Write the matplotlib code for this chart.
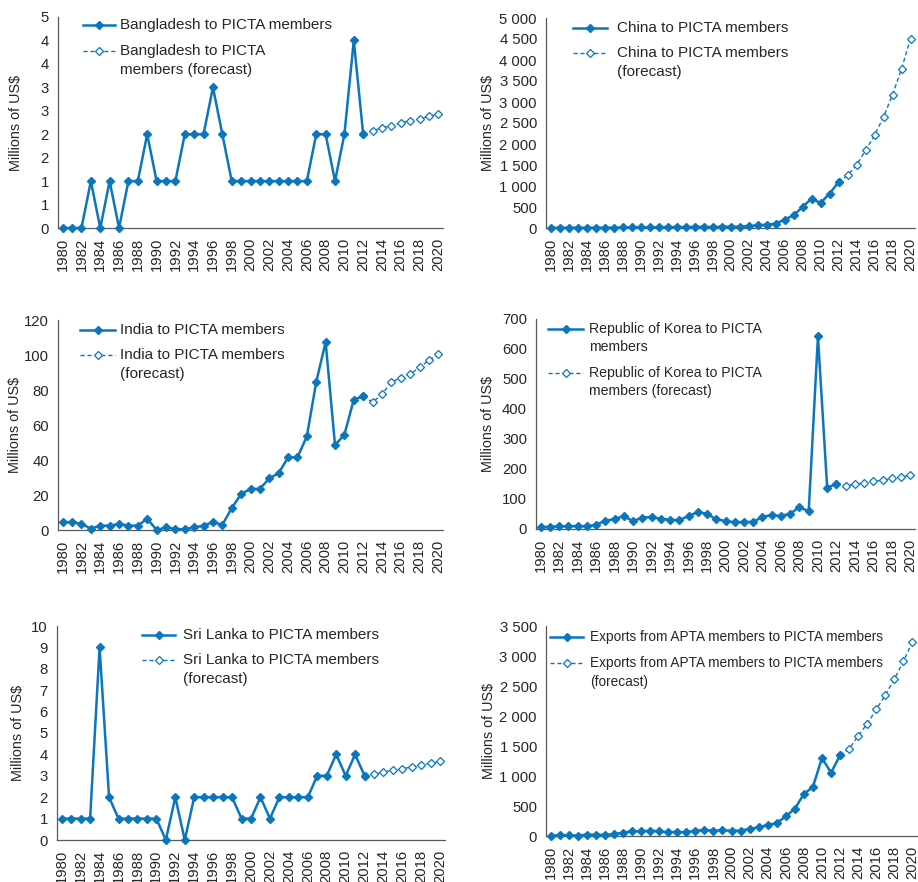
import numpy as np
import matplotlib
matplotlib.use("Agg")
import matplotlib.pyplot as plt
from matplotlib.lines import Line2D
from matplotlib.transforms import blended_transform_factory

plt.rcParams["font.family"] = ["Liberation Sans", "DejaVu Sans"]

years = list(range(1980, 2013))
forecast_years = list(range(2012, 2021))

bangladesh = [0, 0, 0, 1, 0, 1, 0, 1, 1, 2, 1, 1, 1, 2, 2, 2, 3, 2, 1, 1, 1, 1, 1,
              1, 1, 1, 1, 2, 2, 1, 2, 4, 2]
bangladesh_fc = [2, 2.07, 2.14, 2.18, 2.24, 2.29, 2.33, 2.38, 2.43]

china = [5, 5, 6, 6, 7, 7, 8, 9, 12, 14, 14, 14, 22, 18, 24, 20, 25, 28, 22, 30,
         30, 32, 42, 63, 80, 103, 200, 302, 500, 700, 595, 818, 1090]
china_fc = [1090, 1255, 1490, 1850, 2205, 2640, 3175, 3785, 4510]

india = [4.5, 4.5, 3.5, 0.8, 2.5, 2.5, 3.5, 2.5, 2.5, 6.5, 0, 1.5, 0.5, 0.5, 1.5,
         2.5, 4.5, 3, 12.5, 20.5, 23.5, 23.5, 29.5, 32.5, 41.5, 41.5, 53.5, 84.5,
         107.5, 48.5, 54.5, 74.5, 76.5]
india_fc = [76.5, 73, 77.5, 84.5, 87, 89, 93, 97, 100.5]

korea = [7, 7, 9, 9, 10, 9, 14, 28, 33, 43, 26, 38, 40, 34, 31, 29, 44, 56, 51, 32,
         27, 22, 24, 23, 41, 46, 43, 51, 73, 59, 642, 137, 151]
korea_fc = [151, 144, 149, 154, 159, 163, 169, 174, 179]

srilanka = [1, 1, 1, 1, 9, 2, 1, 1, 1, 1, 1, 0, 2, 0, 2, 2, 2, 2, 2, 1, 1, 2, 1, 2,
            2, 2, 2, 3, 3, 4, 3, 4, 3]
srilanka_fc = [3, 3.08, 3.17, 3.26, 3.33, 3.42, 3.5, 3.59, 3.67]

apta = [5, 12, 12, 8, 22, 22, 18, 32, 55, 78, 78, 90, 78, 62, 68, 62, 90, 100, 90,
        95, 88, 90, 118, 145, 185, 215, 328, 455, 700, 820, 1300, 1055, 1345]
apta_fc = [1345, 1450, 1670, 1870, 2110, 2350, 2615, 2910, 3240]

labels = [
    ("Bangladesh to PICTA members", "Bangladesh to PICTA\nmembers (forecast)"),
    ("China to PICTA members", "China to PICTA members\n(forecast)"),
    ("India to PICTA members", "India to PICTA members\n(forecast)"),
    ("Republic of Korea to PICTA\nmembers", "Republic of Korea to PICTA\nmembers (forecast)"),
    ("Sri Lanka to PICTA members", "Sri Lanka to PICTA members\n(forecast)"),
    ("Exports from APTA members to PICTA members",
     "Exports from APTA members to PICTA members\n(forecast)"),
]

y_ticks = [
    np.arange(0, 4.51, 0.5),
    np.arange(0, 5001, 500),
    np.arange(0, 121, 20),
    np.arange(0, 701, 100),
    np.arange(0, 10.1, 1),
    np.arange(0, 3501, 500),
]

W, H = 918, 882
# plot-area boxes in pixels: left, right, top, bottom
boxes = [
    (58, 443, 17, 228),
    (546, 915, 18, 228),
    (58, 443, 320, 530),
    (536, 915, 319, 529),
    (57, 445, 626, 840),
    (546, 917, 626, 836),
]
ylabel_x = [16, 488, 15, 488, 18, 489]
# legend layout in pixels: handle start, handle end, text x, first-line centre of
# each entry, step between wrapped lines, font size
legend_layout = [
    (83, 115, 120, (25, 51), 19, 11),
    (573, 607, 617, (28, 53), 19, 11),
    (80, 115, 120, (330, 355), 19, 11),
    (548, 583, 589, (329, 373), 18, 10.2),
    (142, 175, 183, (635, 660), 19, 11),
    (550, 583, 590, (637, 663), 19, 9.8),
]

series = [
    (bangladesh, bangladesh_fc),
    (china, china_fc),
    (india, india_fc),
    (korea, korea_fc),
    (srilanka, srilanka_fc),
    (apta, apta_fc),
]

BLUE = "#0B76BC"
AXIS = "#595959"
TEXT = "#262626"
TICK_FS = 10.7

actual_style = dict(color=BLUE, lw=1.8, marker="D", ms=4.4, mfc=BLUE, mec=BLUE)
forecast_style = dict(color=BLUE, lw=1.0, ls=(0, (3, 2)), marker="D", ms=4.4,
                      mfc="white", mec=BLUE, mew=0.9)


def fmt_value(v):
    r = int(np.floor(v + 0.5))
    return f"{r:,}".replace(",", " ")


def px(x, y):
    return x / W, 1 - y / H


fig = plt.figure(figsize=(W / 100, H / 100), dpi=100)

for i, ((actual, fc), (lab_a, lab_f), ticks, box) in enumerate(zip(series, labels, y_ticks, boxes)):
    l, r, t, b = box
    ax = fig.add_axes([l / W, 1 - b / H, (r - l) / W, (b - t) / H])
    ax.plot(forecast_years, fc, clip_on=False, zorder=2, **forecast_style)
    ax.plot(years, actual, clip_on=False, zorder=3, **actual_style)
    ax.set_xlim(1979.5, 2020.5)
    ax.set_ylim(ticks[0], ticks[-1])
    ax.set_yticks(ticks)
    ax.set_yticklabels([fmt_value(v) for v in ticks])
    ax.set_xticks(range(1980, 2021, 2))
    ax.set_xticklabels([str(y) for y in range(1980, 2021, 2)], rotation=90)
    ax.tick_params(axis="both", length=0, labelsize=TICK_FS, colors=TEXT)
    ax.tick_params(axis="y", pad=6.5)
    ax.tick_params(axis="x", pad=7)
    for side in ("top", "right"):
        ax.spines[side].set_visible(False)
    for side in ("left", "bottom"):
        ax.spines[side].set_color(AXIS)
        ax.spines[side].set_linewidth(0.9)
    ax.set_ylabel("Millions of US$", fontsize=10.4, color=TEXT)
    ax.yaxis.label.set_va("center")
    ax.yaxis.set_label_coords(ylabel_x[i] / W, 0.5,
                              transform=blended_transform_factory(fig.transFigure, ax.transAxes))
    ax.patch.set_alpha(0)

    # legend: handle aligned with the first line of each label
    hx0, hx1, tx, rows, step, lfs = legend_layout[i]
    for yc, lab, style in zip(rows, (lab_a, lab_f), (actual_style, forecast_style)):
        x0, y0 = px(hx0, yc)
        x1, _ = px(hx1, yc)
        fig.add_artist(Line2D([x0, (x0 + x1) / 2, x1], [y0, y0, y0], markevery=[1],
                              transform=fig.transFigure, **style))
        for k, line in enumerate(lab.split("\n")):
            fx, fy = px(tx, yc + k * step)
            fig.text(fx, fy, line, fontsize=lfs, color=TEXT, ha="left", va="center")

fig.savefig("out.png", dpi=100)
